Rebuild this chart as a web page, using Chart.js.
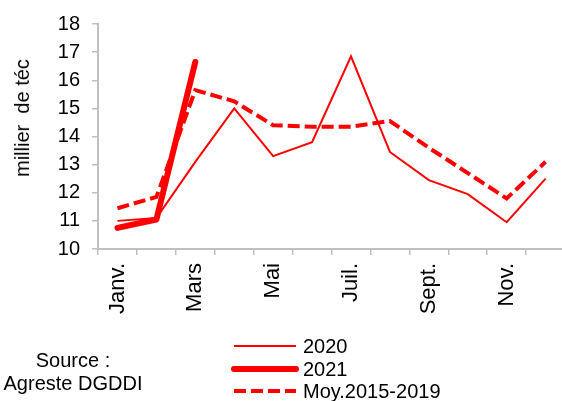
<!DOCTYPE html>
<html><head><meta charset="utf-8">
<script src="https://cdn.jsdelivr.net/npm/chart.js@4"></script>
<style>
html,body{margin:0;padding:0;background:#fff;overflow:hidden;width:562px;height:401px;position:relative;}
#wrap{position:absolute;left:0;top:0;width:580px;height:401px;}
.t{position:absolute;font-family:"Liberation Sans",Arial,sans-serif;font-size:20px;color:#000;white-space:nowrap;line-height:20px;}
</style></head><body>
<div id="wrap"><canvas id="c" width="580" height="401"></canvas></div>
<div class="t" style="left:73px;top:350px;transform:translateX(-50%)">Source :</div>
<div class="t" style="left:73px;top:373px;transform:translateX(-50%)">Agreste DGDDI</div>
<div class="t" id="ytitle" style="left:22px;top:118px;transform:translate(-50%,-50%) rotate(-90deg);white-space:pre">millier  de téc</div>
<div id="legend"></div>
<script>
const months = ['Janv.','Févr.','Mars','Avril','Mai','Juin','Juil.','Août','Sept.','Oct.','Nov.','Déc.'];
const v2020 = [11.0, 11.1, 13.1, 15.0, 13.3, 13.8, 16.85, 13.45, 12.45, 11.95, 10.95, 12.5];
const v2021 = [10.75, 11.05, 16.65, null, null, null, null, null, null, null, null, null];
const vMoy = [11.45, 11.85, 15.65, 15.25, 14.4, 14.35, 14.35, 14.55, 13.6, 12.7, 11.8, 13.1];
const seriesNames = ['2020', '2021', 'Moy.2015-2019'];
const yMin = 10, yMax = 18, yStep = 1;

const red = '#ff0000';
const datasets = [
  {label: seriesNames[0], data: v2020, borderColor: red, borderWidth: 2, borderDash: [], pointRadius: 0, tension: 0, order: 2},
  {label: seriesNames[1], data: v2021, borderColor: red, borderWidth: 6, borderDash: [], borderCapStyle: 'round', borderJoinStyle: 'round', pointRadius: 0, tension: 0, order: 1, spanGaps: false},
  {label: seriesNames[2], data: vMoy, borderColor: red, borderWidth: 4, borderDash: [12, 5], pointRadius: 0, tension: 0, order: 0}
];
const font = {family: '"Liberation Sans", Arial, sans-serif', size: 20};
const xfont = {family: '"Liberation Sans", Arial, sans-serif', size: 22};
const axisGray = '#bfbfbf';
new Chart(document.getElementById('c'), {
  type: 'line',
  data: {labels: months, datasets},
  options: {
    responsive: false, animation: false, devicePixelRatio: 1,
    layout: {padding: {top: 24, left: 0, right: 0, bottom: 0}},
    plugins: {legend: {display: false}, tooltip: {enabled: false}},
    scales: {
      x: {
        offset: true,
        grid: {display: true, offset: true, drawOnChartArea: false, drawTicks: true, tickLength: 6, color: axisGray, lineWidth: 1.5},
        border: {display: true, color: axisGray, width: 2},
        ticks: {autoSkip: false, minRotation: 90, maxRotation: 90, padding: 8, color: '#000', font: xfont,
          callback: function(v, i){ return i % 2 === 0 ? months[i] : ''; }},
        afterFit: s => { s.height = 152; }
      },
      y: {
        min: yMin, max: yMax,
        grid: {display: true, drawOnChartArea: false, drawTicks: true, tickLength: 6, color: axisGray, lineWidth: 1.5},
        border: {display: true, color: axisGray, width: 2},
        ticks: {stepSize: yStep, padding: 12, color: '#000', font},
        afterFit: s => { s.width = 98; }
      }
    }
  }
});

// HTML legend built from dataset styles
const rowsY = [346, 369, 391];
datasets.forEach((d, i) => {
  const y = rowsY[i];
  const svgNS = 'http://www.w3.org/2000/svg';
  const svg = document.createElementNS(svgNS, 'svg');
  svg.setAttribute('width', '70'); svg.setAttribute('height', '12');
  svg.style.position = 'absolute'; svg.style.left = '230px'; svg.style.top = (y - 6) + 'px';
  const ln = document.createElementNS(svgNS, 'line');
  ln.setAttribute('x1', '4'); ln.setAttribute('x2', '66'); ln.setAttribute('y1', '6'); ln.setAttribute('y2', '6');
  ln.setAttribute('stroke', d.borderColor); ln.setAttribute('stroke-width', d.borderWidth);
  if (d.borderDash.length) ln.setAttribute('stroke-dasharray', d.borderDash.join(' '));
  if (d.borderCapStyle === 'round') ln.setAttribute('stroke-linecap', 'round');
  svg.appendChild(ln);
  document.body.appendChild(svg);
  const t = document.createElement('div');
  t.className = 't'; t.textContent = d.label;
  t.style.left = '303px'; t.style.top = (y - 10) + 'px';
  document.body.appendChild(t);
});
</script>
</body></html>
